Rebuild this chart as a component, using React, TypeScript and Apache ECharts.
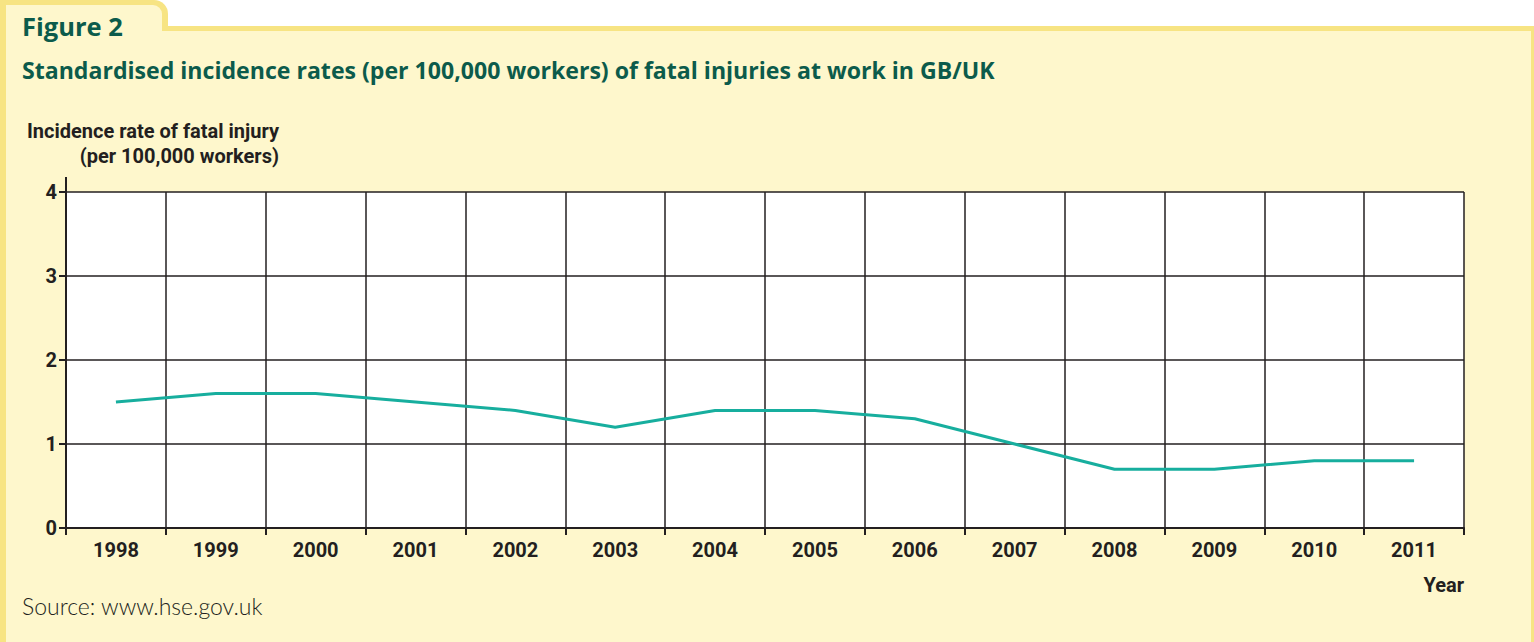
import React, { useEffect, useRef } from "react";
import * as echarts from "echarts";

const years = ["1998","1999","2000","2001","2002","2003","2004","2005","2006","2007","2008","2009","2010","2011"];
const rates = [1.5, 1.6, 1.6, 1.5, 1.4, 1.2, 1.4, 1.4, 1.3, 1.0, 0.7, 0.7, 0.8, 0.8];
const yTicks = { min: 0, max: 4, interval: 1 };

const BORDER = "#F7E483";
const PANEL = "#FEF7CC";
const DARK = "#231F20";
const GREEN = "#0C5B4B";
const TEAL = "#17AE9E";
const NARROW = "Roboto, 'Liberation Sans', sans-serif";

export default function App() {
  const ref = useRef<HTMLDivElement>(null);
  useEffect(() => {
    if (!ref.current) return;
    const chart = echarts.init(ref.current, null, { renderer: "svg" });
    chart.setOption({
      animation: false,
      backgroundColor: "#ffffff",
      graphic: [
        { type: "rect", z: -20, shape: { x: 0, y: 26, width: 1534, height: 620 }, style: { fill: BORDER } },
        { type: "rect", z: -20, shape: { x: 0, y: 0, width: 168, height: 40, r: [0, 14, 0, 0] }, style: { fill: BORDER } },
        { type: "rect", z: -19, shape: { x: 6, y: 5, width: 156, height: 40, r: [0, 9, 0, 0] }, style: { fill: PANEL } },
        { type: "rect", z: -19, shape: { x: 6, y: 31, width: 1525, height: 620 }, style: { fill: PANEL } },
        { type: "line", z: 5, shape: { x1: 66, y1: 177, x2: 66, y2: 193 }, style: { stroke: DARK, lineWidth: 2 } },
        { type: "text", left: 22, top: 13, style: { text: "Figure 2", font: "bold 25.5px 'Open Sans', sans-serif", fill: GREEN } },
        { type: "text", left: 22, top: 58, style: { text: "Standardised incidence rates (per 100,000 workers) of fatal injuries at work in GB/UK", font: "bold 23.1px 'Open Sans', sans-serif", fill: GREEN } },
        { type: "text", x: 279, y: 121, style: { text: "Incidence rate of fatal injury", font: `bold 20px ${NARROW}`, fill: DARK, align: "right", verticalAlign: "top" } },
        { type: "text", x: 279, y: 146, style: { text: "(per 100,000 workers)", font: `bold 20px ${NARROW}`, fill: DARK, align: "right", verticalAlign: "top" } },
        { type: "text", x: 1464, y: 575, style: { text: "Year", font: `bold 20px ${NARROW}`, fill: DARK, align: "right", verticalAlign: "top" } },
        { type: "text", left: 22, top: 594, style: { text: "Source: www.hse.gov.uk", font: "300 23px Lato, sans-serif", fill: DARK } },
      ],
      grid: {
        left: 66, top: 192, right: 70, bottom: 114,
        show: true, backgroundColor: "#ffffff", borderWidth: 0,
      },
      xAxis: {
        type: "category",
        data: years,
        boundaryGap: true,
        axisLine: { show: true, lineStyle: { color: DARK, width: 2 } },
        axisTick: { show: true, length: 7, lineStyle: { color: DARK, width: 2 } },
        axisLabel: { color: DARK, fontFamily: NARROW, fontWeight: "bold", fontSize: 20, margin: 12 },
        splitLine: { show: true, lineStyle: { color: DARK, width: 1.5 } },
      },
      yAxis: {
        type: "value",
        min: yTicks.min, max: yTicks.max, interval: yTicks.interval,
        axisLine: { show: true, lineStyle: { color: DARK, width: 2 } },
        axisTick: { show: true, length: 7, lineStyle: { color: DARK, width: 2 } },
        axisLabel: { color: DARK, fontFamily: NARROW, fontWeight: "bold", fontSize: 20, margin: 9 },
        splitLine: { show: true, lineStyle: { color: DARK, width: 1.5 } },
      },
      series: [
        {
          type: "line",
          data: rates,
          showSymbol: false,
          symbol: "none",
          lineStyle: { color: TEAL, width: 3 },
        },
      ],
    });
    return () => chart.dispose();
  }, []);
  return <div ref={ref} style={{ position: "absolute", left: 0, top: 0, width: 1534, height: 642 }} />;
}
